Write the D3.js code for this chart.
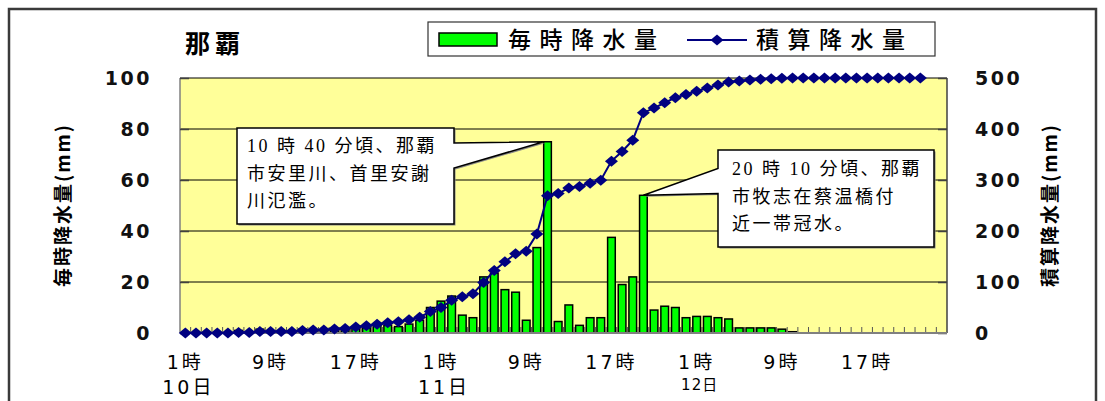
<!DOCTYPE html>
<html>
<head>
<meta charset="utf-8">
<script src="https://cdn.jsdelivr.net/npm/d3@7"></script>
<style>
  body { margin: 0; background: #fff; }
  svg { display: block; }
</style>
</head>
<body>
<div id="chart"></div>
<script>
const days = ["10日", "11日", "12日"];
const categories = days.flatMap(d => d3.range(1, 25).map(h => d + h + "時"));

// 毎時降水量 (mm), one per hour from 10日1時 to 12日24時
const hourly = [
  0, 0, 0, 0, 0, 1, 0, 1.5, 0, 0, 0, 1.5, 1, 0, 1.5, 1,
  2.5, 2, 3, 3, 2.5, 3.5, 5, 10, 12.5, 14.5, 7, 6, 22, 23.5, 17, 16,
  5, 33.5, 75, 4.5, 11, 3, 6, 6, 37.5, 19, 22, 54, 9, 10.5, 10, 6,
  6.5, 6.5, 6, 5.5, 2, 2, 2, 2, 1.5, 0.5, 0, 0, 0, 0, 0, 0,
  0, 0, 0, 0, 0, 0, 0, 0
];

// 積算降水量 (mm)
const cumulative = [
  0, 0, 0, 0, 0, 1, 1, 3, 3, 3, 3, 5, 6, 6, 8, 9,
  12, 14, 17, 20, 22, 26, 31, 42, 50, 64, 71, 77, 99, 122.5, 139.5, 155.5,
  160.5, 194, 269, 273.5, 284.5, 287.5, 293.5, 299.5, 337, 356, 378, 432, 441, 451.5, 461.5, 467.5,
  474, 480.5, 486.5, 492, 494, 496, 497.5, 498.5, 499.5, 500, 500, 500, 500, 500,
  500, 500, 500, 500, 500, 500, 500, 500
];

const leftTicks = [0, 20, 40, 60, 80, 100];
const rightTicks = [0, 100, 200, 300, 400, 500];
const hourTickLabels = ["1時", "9時", "17時"];
const title = "那覇";
const seriesNames = ["毎時降水量", "積算降水量"];
const axisTitles = ["毎時降水量(mm)", "積算降水量(mm)"];
const note1 = ["10 時 40 分頃、那覇", "市安里川、首里安謝", "川氾濫。"];
const note2 = ["20 時 10 分頃、那覇", "市牧志在蔡温橋付", "近一帯冠水。"];
const note1At = "11日11時";
const note2At = "11日20時";

const W = 1105, H = 401;
const P = { left: 180, right: 947, top: 78, bottom: 333 };
const numFont = "'DejaVu Sans', 'Noto Sans CJK JP', sans-serif";
const jpFont = "'Noto Sans CJK JP', sans-serif";
const serifFont = "'Liberation Serif', 'Noto Sans CJK JP', serif";

const svg = d3.select("#chart").append("svg")
  .attr("width", W)
  .attr("height", H);

svg.append("rect").attr("width", W).attr("height", H).attr("fill", "#fff");

// outer frame
svg.append("rect")
  .attr("x", 9).attr("y", 9)
  .attr("width", 1087).attr("height", 420)
  .attr("fill", "none")
  .attr("stroke", "#3a3a3a")
  .attr("stroke-width", 2.5);

const x = d3.scaleBand().domain(categories).range([P.left, P.right]).padding(0);
const yL = d3.scaleLinear().domain([0, 100]).range([P.bottom, P.top]);
const yR = d3.scaleLinear().domain([0, 500]).range([P.bottom, P.top]);
const cx = c => x(c) + x.bandwidth() / 2;

// plot area
svg.append("rect")
  .attr("x", P.left).attr("y", P.top)
  .attr("width", P.right - P.left).attr("height", P.bottom - P.top)
  .attr("fill", "#FFFF99");

// gridlines
svg.append("g")
  .selectAll("line")
  .data(leftTicks.filter(d => d > 0))
  .enter().append("line")
  .attr("x1", P.left).attr("x2", P.right)
  .attr("y1", d => yL(d)).attr("y2", d => yL(d))
  .attr("stroke", "#000")
  .attr("stroke-width", 1);

// plot edges
svg.append("line")
  .attr("x1", P.left).attr("x2", P.left)
  .attr("y1", P.top).attr("y2", P.bottom)
  .attr("stroke", "#808080").attr("stroke-width", 1.5);
svg.append("line")
  .attr("x1", P.right).attr("x2", P.right)
  .attr("y1", P.top).attr("y2", P.bottom)
  .attr("stroke", "#404040").attr("stroke-width", 1.5);

function styleNums(g) {
  g.select(".domain").remove();
  g.selectAll(".tick line").attr("stroke", "#404040").attr("stroke-width", 1.5);
  g.selectAll(".tick text")
    .attr("font-family", numFont)
    .attr("font-size", 19)
    .attr("font-weight", "bold")
    .attr("letter-spacing", 2.5)
    .attr("fill", "#111");
}

// left axis
svg.append("g")
  .attr("transform", `translate(${P.left},0)`)
  .call(d3.axisLeft(yL).tickValues(leftTicks).tickSizeInner(-9).tickSizeOuter(0).tickPadding(28))
  .call(styleNums);

// right axis
svg.append("g")
  .attr("transform", `translate(${P.right},0)`)
  .call(d3.axisRight(yR).tickValues(rightTicks).tickSizeInner(-9).tickSizeOuter(0).tickPadding(28))
  .call(styleNums);

// category ticks inside the bottom edge
svg.append("g")
  .selectAll("line")
  .data(categories.slice(1))
  .enter().append("line")
  .attr("x1", d => x(d)).attr("x2", d => x(d))
  .attr("y1", P.bottom).attr("y2", P.bottom - 6)
  .attr("stroke", "#555")
  .attr("stroke-width", 1);

// bars
const barW = x.bandwidth() * 0.72;
svg.append("g")
  .selectAll("rect")
  .data(categories.map((c, i) => ({ c, v: hourly[i] })).filter(d => d.v > 0))
  .enter().append("rect")
  .attr("x", d => cx(d.c) - barW / 2)
  .attr("y", d => yL(d.v))
  .attr("width", barW)
  .attr("height", d => P.bottom - yL(d.v))
  .attr("fill", "#00FF00")
  .attr("stroke", "#000")
  .attr("stroke-width", 1.5);

// bottom axis line
svg.append("line")
  .attr("x1", P.left).attr("x2", P.right)
  .attr("y1", P.bottom).attr("y2", P.bottom)
  .attr("stroke", "#808080").attr("stroke-width", 2);

// cumulative line
const line = d3.line()
  .x((d, i) => cx(categories[i]))
  .y(d => yR(d));

svg.append("path")
  .datum(cumulative)
  .attr("fill", "none")
  .attr("stroke", "#000080")
  .attr("stroke-width", 2)
  .attr("d", line);

const diamond = "M0,-5.5L6.5,0L0,5.5L-6.5,0Z";
svg.append("g")
  .selectAll("path")
  .data(cumulative)
  .enter().append("path")
  .attr("transform", (d, i) => `translate(${cx(categories[i])},${yR(d)})`)
  .attr("d", diamond)
  .attr("fill", "#000080");

// x labels
const xAxis = svg.append("g")
  .attr("transform", `translate(0,${P.bottom})`)
  .call(d3.axisBottom(x)
    .tickValues(categories.filter(c => hourTickLabels.some(h => c.endsWith("日" + h))))
    .tickFormat(c => c.slice(c.indexOf("日") + 1))
    .tickSize(0)
    .tickPadding(23));
xAxis.select(".domain").remove();
xAxis.selectAll(".tick text")
  .attr("font-family", numFont)
  .attr("font-size", 19)
  .attr("letter-spacing", 3)
  .attr("fill", "#000");

svg.append("g")
  .selectAll("text")
  .data(days)
  .enter().append("text")
  .attr("x", d => cx(d + "1時") + 3)
  .attr("y", (d, i) => i === 2 ? 390 : 394)
  .attr("text-anchor", "middle")
  .attr("font-family", numFont)
  .attr("font-size", (d, i) => i === 2 ? 15 : 19)
  .attr("letter-spacing", (d, i) => i === 2 ? 1 : 3)
  .text(d => d);

// title
svg.append("text")
  .attr("x", 185).attr("y", 53)
  .attr("font-family", jpFont)
  .attr("font-size", 25)
  .attr("font-weight", "bold")
  .attr("letter-spacing", 5)
  .text(title);

// axis titles
svg.append("text")
  .attr("transform", "translate(70,205) rotate(-90)")
  .attr("text-anchor", "middle")
  .attr("font-family", jpFont)
  .attr("font-size", 19)
  .attr("font-weight", "bold")
  .attr("letter-spacing", 2)
  .text(axisTitles[0]);

svg.append("text")
  .attr("transform", "translate(1057,205) rotate(-90)")
  .attr("text-anchor", "middle")
  .attr("font-family", jpFont)
  .attr("font-size", 19)
  .attr("font-weight", "bold")
  .attr("letter-spacing", 2)
  .text(axisTitles[1]);

// legend
const lg = svg.append("g");
lg.append("rect")
  .attr("x", 428).attr("y", 22)
  .attr("width", 507).attr("height", 34)
  .attr("fill", "#fff")
  .attr("stroke", "#333")
  .attr("stroke-width", 1.2);
lg.append("rect")
  .attr("x", 439).attr("y", 33)
  .attr("width", 58).attr("height", 13)
  .attr("fill", "#00FF00")
  .attr("stroke", "#000")
  .attr("stroke-width", 1.5);
lg.append("text")
  .attr("x", 508).attr("y", 48)
  .attr("font-family", jpFont)
  .attr("font-size", 23)
  .attr("font-weight", 500)
  .attr("letter-spacing", 8.5)
  .text(seriesNames[0]);
lg.append("line")
  .attr("x1", 687).attr("x2", 747)
  .attr("y1", 40).attr("y2", 40)
  .attr("stroke", "#000080").attr("stroke-width", 2);
lg.append("path")
  .attr("transform", "translate(717,40)")
  .attr("d", diamond)
  .attr("fill", "#000080");
lg.append("text")
  .attr("x", 756).attr("y", 48)
  .attr("font-family", jpFont)
  .attr("font-size", 23)
  .attr("font-weight", 500)
  .attr("letter-spacing", 8.5)
  .text(seriesNames[1]);

// callouts
const i1 = categories.indexOf(note1At);
const i2 = categories.indexOf(note2At);
const tip1 = [cx(note1At) - barW / 2, yL(hourly[i1])];
const tip2 = [cx(note2At), yL(hourly[i2])];

function callout(d, lines, tx, ty) {
  svg.append("path")
    .attr("d", d)
    .attr("transform", "translate(1.5,1.5)")
    .attr("fill", "#888");
  svg.append("path")
    .attr("d", d)
    .attr("fill", "#fff")
    .attr("stroke", "#000")
    .attr("stroke-width", 1.5)
    .attr("stroke-linejoin", "miter");
  svg.append("g")
    .selectAll("text")
    .data(lines)
    .enter().append("text")
    .attr("x", tx)
    .attr("y", (t, i) => ty + i * 27.5)
    .attr("font-family", serifFont)
    .attr("font-size", 18)
    .attr("letter-spacing", 2.5)
    .text(t => t);
}

callout(`M237,128H454V143L${tip1[0]},${tip1[1]}L454,168V224H237Z`, note1, 247, 152);
callout(`M718,150H934V247H718V193.5L${tip2[0]},${tip2[1]}L718,168.5Z`, note2, 732, 175);
</script>
</body>
</html>
